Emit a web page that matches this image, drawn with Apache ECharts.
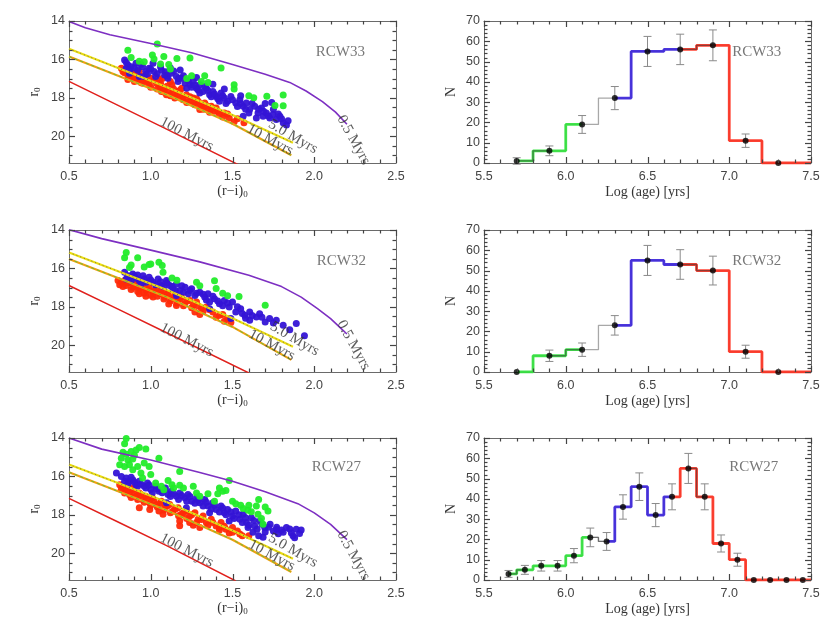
<!DOCTYPE html>
<html><head><meta charset="utf-8">
<script src="https://cdn.jsdelivr.net/npm/echarts/dist/echarts.min.js"></script>
<style>html,body{margin:0;padding:0;background:#fff}#c{width:830px;height:624px}</style>
</head><body><div id="c"></div>
<script>
// ---------------- DATA ----------------
const clusterNames = ['RCW33', 'RCW32', 'RCW27'];
const isoNames = ['0.5 Myrs', '5.0 Myrs', '10 Myrs', '100 Myrs'];

const rcw33Green = [[0.86,15.52],[1.04,15.2],[0.88,15.9],[0.93,16.1],[0.96,16.13],[1.01,15.77],[1.02,15.98],[1.06,16.24],[1.08,15.85],[1.11,16.27],[1.12,16.5],[1.16,15.95],[1.24,15.93],[1.22,17.0],[1.25,16.85],[1.33,16.85],[1.35,17.2],[1.31,17.15],[1.43,16.45],[1.51,17.32],[1.51,17.55],[1.6,17.9],[1.63,18.0],[1.71,17.92],[1.81,17.86],[1.81,18.42],[1.76,18.4]];
const rcw33Blue = [[0.84,16.03],[0.86,16.29],[0.85,16.46],[0.88,16.38],[0.91,16.2],[0.92,16.55],[0.95,16.38],[0.97,16.63],[0.96,16.89],[0.99,16.46],[1.02,16.63],[1.03,16.89],[1.065,16.55],[1.085,16.81],[1.105,16.98],[1.126,16.72],[1.157,16.89],[1.167,17.15],[1.187,16.98],[1.21,17.24],[1.24,17.32],[1.26,17.15],[1.28,17.5],[1.30,17.32],[1.32,17.67],[1.34,17.5],[1.36,17.84],[1.38,17.67],[1.40,17.93],[1.43,17.75],[1.45,18.01],[1.47,18.18],[1.49,17.93],[1.52,18.27],[1.545,18.1],[1.565,18.44],[1.585,18.27],[1.605,18.61],[1.636,18.44],[1.656,18.79],[1.677,18.53],[1.687,18.96],[1.707,18.79],[1.728,19.05],[1.748,18.87],[1.768,19.13],[1.79,18.96],[1.81,19.3],[1.83,19.42],[1.565,18.96],[1.646,19.05],[1.42,18.18],[1.30,17.75],[1.22,17.5],[1.014,16.2],[0.93,16.89],[0.87,16.72],
  [0.85,16.15],[0.87,16.55],[0.9,16.45],[0.94,16.25],[0.98,16.75],[1.0,16.5],[1.04,16.75],[1.06,16.4],[1.09,16.65],[1.1,16.85],[1.14,16.6],[1.17,17.0],[1.2,16.85],[1.23,17.1],[1.25,17.45],[1.27,17.35],[1.29,17.6],[1.33,17.4],[1.35,17.62],[1.37,17.95],[1.39,17.8],[1.41,18.05],[1.44,17.9],[1.46,18.3],[1.5,18.1],[1.53,18.45],[1.55,18.3],[1.58,18.6],[1.62,18.3],[1.66,18.6],[1.69,18.7],[1.72,18.95],[1.75,18.6],[1.78,18.85],[1.8,19.1],[1.84,19.2],[1.6,18.8],
  [1.18,16.55],[1.28,16.95],[1.45,17.55],[1.55,17.9],[1.7,18.3],[1.74,18.25],[1.12,16.45],[1.38,17.3]];
const rcw33Red = [[0.82,16.46],[0.83,16.63],[0.85,16.55],[0.86,16.81],[0.88,16.67],[0.89,16.89],[0.90,17.15],[0.91,16.98],[0.94,16.89],[0.95,17.24],[0.97,17.06],[0.99,17.32],[1.035,17.24],[1.055,17.41],[1.065,17.67],[1.085,17.5],[1.096,17.84],[1.116,17.58],[1.136,17.75],[1.147,18.01],[1.167,17.67],[1.177,17.93],[1.198,18.1],[1.218,17.84],[1.24,18.18],[1.26,18.01],[1.269,18.36],[1.29,18.18],[1.31,18.44],[1.33,18.27],[1.35,18.61],[1.37,18.44],[1.39,18.7],[1.42,18.87],[1.45,18.79],[1.48,19.05],[1.51,19.25],[1.055,17.06],[1.0,16.98],[0.93,16.63],[0.87,16.98],[1.13,17.32],[1.19,17.5],[1.40,18.53],[1.30,18.61],
  [0.84,16.7],[0.86,17.05],[0.88,16.8],[0.9,16.75],[0.92,17.1],[0.94,17.2],[0.96,16.95],[0.98,17.15],[1.0,17.45],[1.02,17.1],[1.04,17.55],[1.06,17.25],[1.08,17.7],[1.1,17.4],[1.12,17.9],[1.14,17.55],[1.16,17.85],[1.18,17.6],[1.2,18.0],[1.22,18.25],[1.24,17.95],[1.26,18.3],[1.28,18.05],[1.3,18.3],[1.32,18.6],[1.34,18.4],[1.36,18.75],[1.38,18.55],[1.41,18.7],[1.44,19.0],[1.47,18.85],[1.53,19.1],[1.57,19.3],[1.12,17.15],[1.07,17.0],[0.97,16.8]];

const rcw32Green = [[0.84,15.45],[0.85,15.17],[0.88,15.82],[0.87,15.95],[0.92,15.45],[0.96,15.93],[0.99,15.8],[1.0,15.77],[1.05,15.68],[1.07,15.85],[1.075,16.2],[1.13,16.5],[1.16,16.62],[1.28,16.72],[1.3,16.9],[1.39,16.65],[1.4,17.05],[1.44,17.3],[1.47,17.42],[1.54,17.47],[1.7,17.92]];
const rcw32Blue = [[0.84,16.2],[0.86,16.38],[0.85,16.55],[0.89,16.29],[0.91,16.51],[0.93,16.63],[0.953,16.38],[0.97,16.72],[0.99,16.46],[1.014,16.72],[1.045,16.55],[1.065,16.89],[1.096,16.63],[1.116,16.89],[1.136,17.06],[1.157,16.81],[1.177,17.15],[1.21,16.98],[1.23,17.32],[1.25,17.06],[1.27,17.41],[1.30,17.24],[1.33,17.49],[1.35,17.32],[1.36,17.75],[1.39,17.58],[1.42,17.84],[1.45,17.67],[1.48,18.01],[1.50,17.75],[1.52,18.27],[1.55,18.1],[1.575,18.44],[1.605,18.27],[1.646,18.53],[1.666,18.36],[1.727,18.61],[1.768,18.7],[1.81,18.96],[1.89,18.87],[1.94,19.51],[1.49,18.61],[1.36,18.1],[1.157,17.41],[1.605,18.7],
  [0.87,16.45],[0.88,16.65],[0.9,16.4],[0.92,16.35],[0.94,16.8],[0.96,16.55],[1.0,16.6],[1.03,16.85],[1.06,16.7],[1.08,16.95],[1.1,16.75],[1.13,16.95],[1.15,17.15],[1.19,16.9],[1.2,17.25],[1.24,17.15],[1.28,17.3],[1.32,17.35],[1.34,17.65],[1.38,17.45],[1.41,17.7],[1.44,17.95],[1.47,17.8],[1.53,18.0],[1.56,18.35],[1.62,18.45],[1.68,18.55],[1.75,18.85],[1.85,19.2],[1.58,18.6],[1.7,18.8]];
const rcw32Red = [[0.80,16.63],[0.82,16.72],[0.84,16.63],[0.85,16.89],[0.87,16.72],[0.89,16.98],[0.91,16.81],[0.93,17.06],[0.95,16.89],[0.97,17.15],[0.99,16.98],[1.014,17.24],[1.035,17.06],[1.055,17.32],[1.075,17.15],[1.085,17.49],[1.106,17.32],[1.126,17.58],[1.147,17.41],[1.167,17.67],[1.187,17.49],[1.208,17.84],[1.24,17.67],[1.26,17.93],[1.28,17.75],[1.31,18.1],[1.34,18.01],[1.38,18.27],[1.42,18.44],[1.47,18.61],[1.49,18.82],[1.014,17.49],[0.93,17.32],[1.157,17.93],[1.27,18.27],
  [0.81,16.85],[0.83,16.95],[0.86,16.75],[0.88,17.1],[0.9,16.9],[0.92,17.2],[0.94,17.0],[0.96,17.3],[0.98,17.1],[1.0,17.4],[1.02,17.15],[1.04,17.45],[1.06,17.2],[1.08,17.6],[1.1,17.35],[1.12,17.7],[1.14,17.5],[1.16,17.8],[1.18,17.6],[1.2,17.95],[1.22,17.7],[1.25,18.05],[1.29,17.95],[1.32,18.25],[1.36,18.15],[1.4,18.55],[1.44,18.4],[1.45,18.75],[1.3,18.4],[0.97,17.45],[1.11,17.85]];

const rcw27Green = [[0.85,14.02],[0.83,14.74],[0.85,14.85],[0.88,14.71],[0.91,14.62],[0.93,14.5],[0.97,14.57],[0.82,15.05],[0.86,15.14],[0.89,15.09],[0.81,15.4],[0.84,15.48],[0.87,15.4],[0.89,15.66],[0.92,15.48],[0.94,15.83],[0.95,16.09],[0.99,15.48],[1.05,15.05],[1.03,16.34],[1.065,16.52],[1.106,16.22],[1.13,16.43],[1.177,15.74],[1.177,16.46],[1.26,16.52],[1.28,16.86],[1.30,17.03],[1.35,16.91],[1.39,17.29],[1.41,16.91],[1.44,16.78],[1.46,16.74],[1.48,16.21],[1.50,17.29],[1.52,17.43],[1.55,17.5],[1.565,17.67],[1.595,17.77],[1.615,17.84],[1.646,17.55],[1.66,17.2],[1.656,17.98],[1.677,18.19],[1.717,17.81],[1.687,18.5],
  [0.84,14.3],[0.9,14.9],[0.96,15.3],[1.0,15.9],[1.08,16.7],[1.14,16.6],[1.2,16.6],[1.42,16.6],[1.6,17.5],[1.7,17.6]];
const rcw27Blue = [[0.79,15.83],[0.85,16.09],[0.87,16.26],[0.89,16.17],[0.91,16.43],[0.93,16.26],[0.96,16.52],[0.98,16.34],[1.0,16.69],[1.03,16.52],[1.05,16.78],[1.085,16.69],[1.106,16.95],[1.126,16.78],[1.157,17.03],[1.177,16.86],[1.208,17.12],[1.228,16.95],[1.25,17.29],[1.28,17.12],[1.30,17.38],[1.33,17.21],[1.35,17.55],[1.38,17.38],[1.40,17.72],[1.43,17.55],[1.45,17.89],[1.47,17.72],[1.50,18.07],[1.52,17.81],[1.545,18.24],[1.565,17.98],[1.585,18.41],[1.615,18.15],[1.636,18.58],[1.667,18.32],[1.697,18.67],[1.73,18.5],[1.77,18.76],[1.83,18.67],[1.89,18.76],[1.218,17.64],[1.096,17.38],[1.36,17.89],[1.48,18.32],[1.595,18.67],[1.625,18.91],[1.687,19.17],[1.77,18.65],[1.81,18.91],[1.85,18.74],[1.87,19.09],[1.91,18.98],[1.78,18.99],
  [0.82,16.0],[0.84,16.25],[0.86,16.4],[0.88,16.05],[0.9,16.3],[0.92,16.5],[0.94,16.4],[0.97,16.6],[0.99,16.45],[1.01,16.85],[1.04,16.65],[1.07,16.85],[1.09,16.6],[1.12,17.05],[1.14,16.9],[1.17,17.2],[1.19,17.0],[1.22,17.3],[1.24,17.05],[1.27,17.4],[1.29,17.25],[1.32,17.55],[1.34,17.35],[1.37,17.7],[1.39,17.5],[1.42,17.85],[1.44,17.65],[1.46,18.0],[1.49,17.85],[1.51,18.2],[1.54,18.0],[1.56,18.4],[1.58,18.15],[1.6,18.55],[1.63,18.3],[1.65,18.75],[1.68,18.5],[1.7,18.9],[1.72,18.65],[1.75,18.85],[1.8,18.8],[1.86,18.95],[1.88,19.2],[1.92,18.8],[1.66,19.1]];
const rcw27Red = [[0.81,16.43],[0.82,16.69],[0.84,16.86],[0.85,16.6],[0.87,16.95],[0.89,16.69],[0.91,17.03],[0.93,16.86],[0.95,17.21],[0.97,17.03],[0.994,17.38],[1.01,17.12],[1.035,17.46],[1.065,17.29],[1.085,17.64],[1.116,17.46],[1.136,17.81],[1.167,17.64],[1.187,17.98],[1.218,17.81],[1.238,18.07],[1.27,17.89],[1.29,18.24],[1.32,18.07],[1.34,18.41],[1.37,18.24],[1.40,18.58],[1.43,18.41],[1.46,18.76],[1.50,18.67],[0.93,17.64],[0.994,17.72],[1.075,17.98],[1.177,18.32],[1.30,18.67],[1.177,18.57],[1.42,18.65],[1.50,18.91],[1.545,19.0],[1.6,19.1],[1.238,18.4],
  [0.83,16.55],[0.86,16.75],[0.88,17.1],[0.9,16.85],[0.92,17.2],[0.94,16.95],[0.96,17.35],[0.98,17.15],[1.0,17.5],[1.02,17.25],[1.04,17.6],[1.06,17.4],[1.08,17.75],[1.1,17.55],[1.12,17.9],[1.15,17.7],[1.17,18.05],[1.2,17.9],[1.22,18.2],[1.25,18.0],[1.28,18.4],[1.31,18.25],[1.35,18.55],[1.38,18.4],[1.42,18.8],[1.45,18.6],[1.48,18.95],[1.53,18.85],[1.56,19.1],[0.88,16.6],[1.05,17.8],[1.26,18.55]];

const rcw33Iso05 = [[0.5,14.02],[0.6,14.35],[0.75,14.72],[1.0,15.17],[1.25,15.65],[1.5,16.27],[1.7,16.77],[1.85,17.2],[1.95,17.65],[2.05,18.2],[2.13,18.75],[2.2,19.38]];
const rcw33Iso5 = [[0.5,15.45],[0.8,16.45],[1.1,17.45],[1.5,18.9],[1.87,20.35]];
const rcw33Iso10 = [[0.5,15.85],[0.8,16.85],[1.1,17.85],[1.5,19.35],[1.86,21.0]];
const rcw33Iso100 = [[0.5,17.15],[0.8,18.4],[1.1,19.65],[1.55,21.55]];
const rcw32Iso05 = [[0.5,13.98],[0.7,14.45],[1.0,15.05],[1.3,15.66],[1.6,16.36],[1.8,16.95],[1.92,17.5],[2.02,18.1],[2.1,18.62],[2.16,19.1],[2.2,19.42]];
const rcw32Iso5 = [[0.5,15.17],[0.8,16.15],[1.1,17.13],[1.5,18.6],[1.87,20.08]];
const rcw32Iso10 = [[0.5,15.51],[0.8,16.5],[1.1,17.5],[1.5,19.05],[1.86,20.77]];
const rcw32Iso100 = [[0.5,16.89],[0.8,18.12],[1.1,19.37],[1.6,21.45]];
const rcw27Iso05 = [[0.5,14.0],[0.7,14.58],[1.0,15.15],[1.3,15.8],[1.5,16.25],[1.7,16.8],[1.9,17.42],[2.0,17.9],[2.1,18.5],[2.2,19.3]];
const rcw27Iso5 = [[0.5,15.38],[0.8,16.35],[1.1,17.35],[1.5,18.82],[1.87,20.29]];
const rcw27Iso10 = [[0.5,15.78],[0.8,16.78],[1.1,17.78],[1.5,19.3],[1.86,20.98]];
const rcw27Iso100 = [[0.5,17.15],[0.8,18.38],[1.1,19.62],[1.52,21.45]];

const rcw33Age = [5.7,5.9,6.1,6.3,6.5,6.7,6.9,7.1,7.3];
const rcw33N   = [1,6,19,32,55,56,58,11,0];
const rcw33Err = [1.6,2.4,4.4,5.7,7.4,7.5,7.6,3.3,0];
const rcw32Age = [5.7,5.9,6.1,6.3,6.5,6.7,6.9,7.1,7.3];
const rcw32N   = [0,8,11,23,55,53,50,10,0];
const rcw32Err = [0,2.8,3.3,4.8,7.4,7.3,7.1,3.2,0];
const rcw27Age = [5.65,5.75,5.85,5.95,6.05,6.15,6.25,6.35,6.45,6.55,6.65,6.75,6.85,6.95,7.05,7.15,7.25,7.35,7.45];
const rcw27N   = [3,5,7,7,12,21,19,36,46,32,41,55,41,18,10,0,0,0,0];
const rcw27Err = [1.7,2.2,2.6,2.6,3.5,4.6,4.4,6.0,6.8,5.7,6.4,7.4,6.4,4.2,3.2,0,0,0,0];
const rcw33Ranges = [[0,2],[3,5],[5,8]];
const rcw32Ranges = [[0,2],[3,5],[5,8]];
const rcw27Ranges = [[0,5],[6,10],[10,18]];
const rcw33Dark = [[0,1],[5,6]];
const rcw32Dark = [[1,2],[5,6]];
const rcw27Dark = [[0,1],[5,6],[11,12]];

// axis tick settings [min, max, major step, minor step]
const cmdXTicks = [0.5, 2.5, 0.5, 0.1];
const cmdYTicks = [14, 21.4, 2, 0.5];
const histXTicks = [5.5, 7.5, 0.5, 0.1];
const histYTicks = [0, 70, 10, 2];

// ---------------- LAYOUT / STYLE ----------------
const cmdPanels = [
  {green: rcw33Green, blue: rcw33Blue, red: rcw33Red, iso: [rcw33Iso05, rcw33Iso5, rcw33Iso10, rcw33Iso100],
   isoLab: [[2.24,20.2],[1.87,20.03],[1.73,20.2],[1.22,19.9]], namePos: [2.16,15.62]},
  {green: rcw32Green, blue: rcw32Blue, red: rcw32Red, iso: [rcw32Iso05, rcw32Iso5, rcw32Iso10, rcw32Iso100],
   isoLab: [[2.24,20.0],[1.88,19.68],[1.74,20.0],[1.22,19.74]], namePos: [2.166,15.6]},
  {green: rcw27Green, blue: rcw27Blue, red: rcw27Red, iso: [rcw27Iso05, rcw27Iso5, rcw27Iso10, rcw27Iso100],
   isoLab: [[2.24,20.12],[1.87,19.86],[1.74,20.12],[1.22,19.86]], namePos: [2.135,15.52]}
];
const histPanels = [
  {age: rcw33Age, n: rcw33N, err: rcw33Err, ranges: rcw33Ranges, dark: rcw33Dark, namePos: [7.168,54.5]},
  {age: rcw32Age, n: rcw32N, err: rcw32Err, ranges: rcw32Ranges, dark: rcw32Dark, namePos: [7.168,54.5]},
  {age: rcw27Age, n: rcw27N, err: rcw27Err, ranges: rcw27Ranges, dark: rcw27Dark, namePos: [7.15,55.6]}
];
const isoRot = [-61, -30, -28, -27];

const SANS = 'Liberation Sans';
const SERIF = 'Liberation Serif';
const AX = '#6a6a6a';
const tops = [21, 230, 438];

const grids = [], xAxes = [], yAxes = [], series = [];

function axisCommon(show) {
  return {
    show: true,
    axisLine: {show: true, onZero: false, lineStyle: {color: AX, width: 1}},
    axisTick: {show: false},
    minorTick: {show: false},
    splitLine: {show: false},
    axisLabel: {show: show, color: '#444', fontFamily: SANS, fontSize: 12.5}
  };
}

function tickList(spec) {
  const [mn, mx, maj, mnr] = spec;
  const out = [];
  const n = Math.round((mx - mn) / mnr + 1e-6);
  for (let i = 0; i <= n; i++) {
    const v = +(mn + i * mnr).toFixed(6);
    if (v > mx + 1e-9) break;
    const k = (v - Math.round(mn / maj) * maj) / maj;
    out.push([v, Math.abs(k - Math.round(k)) < 1e-6 ? 1 : 0]);
  }
  return out;
}

// tick marks drawn inside the frame on all four sides
function tickSeries(gridIdx, xs, ys) {
  const data = [];
  tickList(xs).forEach(t => data.push([t[0], t[1], 0]));
  tickList(ys).forEach(t => data.push([t[0], t[1], 1]));
  return {type: 'custom', coordinateSystem: 'none', silent: true, z: 10, data: data,
    renderItem: (params, api) => {
      const g = chart.getModel().getComponent('grid', gridIdx).coordinateSystem.getRect();
      const v = api.value(0), major = api.value(1) === 1, isY = api.value(2) === 1;
      const len = major ? 6 : 3.5;
      const st = {stroke: '#444', lineWidth: 1.2};
      if (!isY) {
        const frac = (v - xs[0]) / (xs[1] - xs[0]);
        const x = Math.round(g.x + frac * g.width) + 0.5;
        return {type: 'group', children: [
          {type: 'line', shape: {x1: x, y1: g.y + g.height, x2: x, y2: g.y + g.height - len}, style: st},
          {type: 'line', shape: {x1: x, y1: g.y, x2: x, y2: g.y + len}, style: st}]};
      }
      const frac = (v - ys[0]) / (ys[1] - ys[0]);
      const inv = ys[0] === 14;
      const y = Math.round(inv ? g.y + frac * g.height : g.y + g.height - frac * g.height) + 0.5;
      return {type: 'group', children: [
        {type: 'line', shape: {x1: g.x, y1: y, x2: g.x + len, y2: y}, style: st},
        {type: 'line', shape: {x1: g.x + g.width, y1: y, x2: g.x + g.width - len, y2: y}, style: st}]};
    }};
}

let chart;

tops.forEach((top, r) => {
  const gL = grids.length;
  grids.push({left: 69, top: top, width: 327, height: 142});
  const gR = grids.length;
  grids.push({left: 484, top: top, width: 327, height: 142});

  [gL, gR].forEach(g => {
    const isL = g === gL;
    const xb = Object.assign(axisCommon(true), {
      gridIndex: g, type: 'value', position: 'bottom',
      min: isL ? 0.5 : 5.5, max: isL ? 2.5 : 7.5, interval: 0.5,
      name: isL ? '(r−i){s|0}' : 'Log (age) [yrs]', nameLocation: 'middle', nameGap: isL ? 20 : 22,
      nameTextStyle: {fontFamily: SERIF, fontSize: 14, color: '#333',
        rich: {s: {fontFamily: SERIF, fontSize: 9, color: '#333', padding: [7, 0, 0, 0]}}}
    });
    xb.axisLabel.formatter = v => v.toFixed(1);
    xb.axisLabel.margin = 7;
    const xt = Object.assign(axisCommon(false), {
      gridIndex: g, type: 'value', position: 'top',
      min: isL ? 0.5 : 5.5, max: isL ? 2.5 : 7.5, interval: 0.5
    });
    xAxes.push(xb, xt);

    const yl = Object.assign(axisCommon(true), {
      gridIndex: g, type: 'value', position: 'left',
      min: isL ? 14 : 0, max: isL ? 21.4 : 70, interval: isL ? 2 : 10, inverse: isL,
      name: isL ? '{s|r}{b|0}' : 'N', nameLocation: 'middle', nameGap: isL ? 27 : 26,
      nameTextStyle: {fontFamily: SERIF, fontSize: 14, color: '#333',
        rich: {s: {fontFamily: SERIF, fontSize: 14, color: '#333'},
               b: {fontFamily: SERIF, fontSize: 9, color: '#333', padding: [7, 0, 0, 0]}}}
    });
    yl.axisLabel.margin = 4;
    yl.axisLabel.formatter = v => (isL ? (Math.abs(v % 2) < 1e-9 ? String(v) : '') : String(v));
    const yr = Object.assign(axisCommon(false), {
      gridIndex: g, type: 'value', position: 'right',
      min: isL ? 14 : 0, max: isL ? 21.4 : 70, interval: isL ? 2 : 10, inverse: isL
    });
    yAxes.push(yl, yr);
  });

  // ---- CMD series ----
  const p = cmdPanels[r];
  const xiL = gL * 2, yiL = gL * 2;
  const sc = (data, color) => ({type: 'scatter', xAxisIndex: xiL, yAxisIndex: yiL, data: data,
    symbolSize: 7, itemStyle: {color: color, opacity: 0.95}, silent: true, z: 2});
  series.push(sc(p.red, '#ff2a08'), sc(p.blue, '#3414d6'), sc(p.green, '#22ec2a'));
  const ln = (data, color, w, type, z) => ({type: 'line', xAxisIndex: xiL, yAxisIndex: yiL, data: data,
    symbol: 'none', lineStyle: {color: color, width: w, type: type}, silent: true, z: z || 3});
  series.push(ln(p.iso[3], '#e0201c', 1.5, 'solid'));
  series.push(ln(p.iso[2], '#f2a010', 2.2, 'solid'));
  series.push(ln(p.iso[2], '#66c23a', 1, [3, 3], 4));
  series.push(ln(p.iso[1], '#ecde10', 2.2, 'solid'));
  series.push(ln(p.iso[1], '#555', 0.8, [1, 3], 4));
  series.push(ln(p.iso[0], '#7d2fc2', 1.6, 'solid'));
  series.push({type: 'scatter', xAxisIndex: xiL, yAxisIndex: yiL, symbolSize: 0, silent: true, z: 5,
    data: isoNames.map((t, i) => ({value: p.isoLab[i], name: t,
      label: {show: true, position: 'inside', rotate: isoRot[i], formatter: t,
        fontFamily: SERIF, fontSize: 15, color: '#333'}}))});
  series.push({type: 'scatter', xAxisIndex: xiL, yAxisIndex: yiL, symbolSize: 0, silent: true, z: 5,
    data: [{value: p.namePos, label: {show: true, position: 'inside', formatter: clusterNames[r],
      fontFamily: SERIF, fontSize: 15, color: '#555'}}]});
  series.push(tickSeries(gL, cmdXTicks, cmdYTicks));

  // ---- histogram series ----
  const h = histPanels[r];
  const xiR = gR * 2, yiR = gR * 2;
  const pts = h.age.map((a, i) => [a, h.n[i]]);
  const endPt = [7.5, h.n[h.n.length - 1]];
  series.push({type: 'line', step: 'middle', xAxisIndex: xiR, yAxisIndex: yiR, data: pts.concat([endPt]),
    symbol: 'none', lineStyle: {color: '#a8a8a8', width: 1.3}, silent: true, z: 2});
  const cols = ['#2fe23a', '#3a22dc', '#ff2f1e'];
  h.ranges.forEach((rg, k) => {
    let d = pts.slice(rg[0], rg[1] + 1);
    if (k === 2) d = d.concat([endPt]);
    series.push({type: 'line', step: 'middle', xAxisIndex: xiR, yAxisIndex: yiR, data: d,
      symbol: 'none', lineStyle: {color: cols[k], width: 2.8, opacity: 0.9}, silent: true, z: 3});
  });
  h.dark.forEach(rg => {
    series.push({type: 'line', step: 'middle', xAxisIndex: xiR, yAxisIndex: yiR, data: pts.slice(rg[0], rg[1] + 1),
      symbol: 'none', lineStyle: {color: '#3a3a3a', width: 1.3, opacity: 0.55}, silent: true, z: 3});
  });
  series.push({type: 'custom', xAxisIndex: xiR, yAxisIndex: yiR, silent: true, z: 4,
    data: h.age.map((a, i) => [a, h.n[i] - h.err[i], h.n[i] + h.err[i]]).filter((d, i) => h.err[i] > 0),
    renderItem: (params, api) => {
      const x = api.value(0);
      const top = api.coord([x, api.value(2)]);
      const bot = api.coord([x, api.value(1)]);
      const st = {stroke: '#8a8a8a', lineWidth: 1};
      return {type: 'group', children: [
        {type: 'line', shape: {x1: top[0], y1: top[1], x2: bot[0], y2: bot[1]}, style: st},
        {type: 'line', shape: {x1: top[0] - 4, y1: top[1], x2: top[0] + 4, y2: top[1]}, style: st},
        {type: 'line', shape: {x1: bot[0] - 4, y1: bot[1], x2: bot[0] + 4, y2: bot[1]}, style: st}
      ]};
    }});
  series.push({type: 'scatter', xAxisIndex: xiR, yAxisIndex: yiR, data: pts, symbolSize: 6,
    itemStyle: {color: '#000'}, silent: true, z: 5, clip: false});
  series.push({type: 'scatter', xAxisIndex: xiR, yAxisIndex: yiR, symbolSize: 0, silent: true, z: 5,
    data: [{value: h.namePos, label: {show: true, position: 'inside', formatter: clusterNames[r],
      fontFamily: SERIF, fontSize: 15, color: '#555'}}]});
  series.push(tickSeries(gR, histXTicks, histYTicks));
});

chart = echarts.init(document.getElementById('c'), null, {renderer: 'canvas'});
chart.setOption({
  animation: false,
  backgroundColor: '#fff',
  grid: grids, xAxis: xAxes, yAxis: yAxes, series: series
});
</script></body></html>
